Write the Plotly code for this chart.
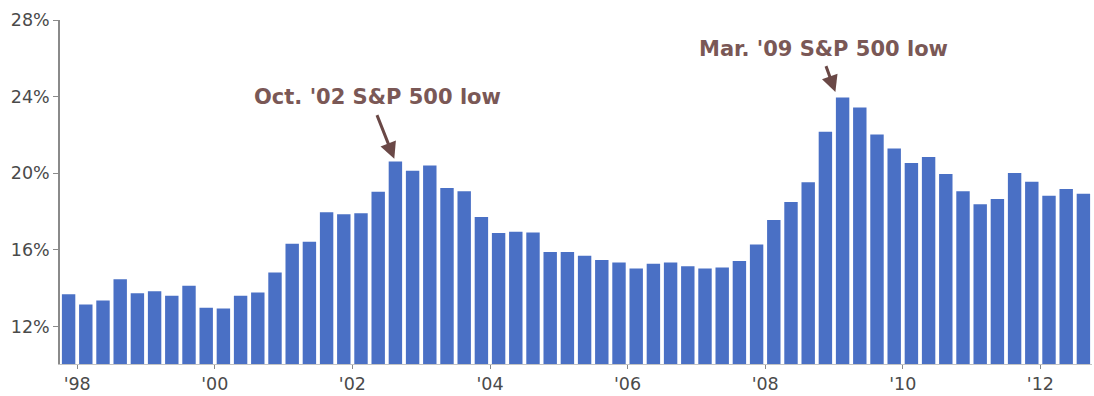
import plotly.graph_objects as go

# Quarterly series, Q4 1997 through Q3 2012 (percent)
quarters = [f"{y}Q{q}" for y in range(1997, 2013) for q in range(1, 5)][3:63]
values = [
    13.69, 13.16, 13.36, 14.47, 13.74, 13.85, 13.61, 14.13, 12.99, 12.95,
    13.61, 13.78, 14.82, 16.32, 16.43, 17.97, 17.86, 17.92, 19.04, 20.61,
    20.13, 20.41, 19.23, 19.07, 17.72, 16.89, 16.95, 16.91, 15.89, 15.89,
    15.70, 15.48, 15.34, 15.03, 15.28, 15.34, 15.15, 15.03, 15.08, 15.42,
    16.29, 17.57, 18.50, 19.54, 22.17, 23.95, 23.43, 22.03, 21.29, 20.54,
    20.85, 19.97, 19.06, 18.38, 18.66, 20.02, 19.56, 18.83, 19.18, 18.93,
]

# Year ticks sit on the boundary before Q1 of each labelled year
tick_years = [1998, 2000, 2002, 2004, 2006, 2008, 2010, 2012]
tick_labels = ["'98", "'00", "'02", "'04", "'06", "'08", "'10", "'12"]
y_ticks = [12, 16, 20, 24, 28]
y_tick_labels = ["12%", "16%", "20%", "24%", "28%"]

# Market-low callouts: (quarter, text)
callouts = [("2002Q3", "Oct. '02 S&P 500 low"), ("2009Q1", "Mar. '09 S&P 500 low")]

x = list(range(len(values)))
tick_pos = [quarters.index(f"{yr}Q1") - 0.5 for yr in tick_years]

BAR = "#4a70c5"
NOTE = "#7a5856"
ARROW = "#6a4846"
AXIS = "#8a8a8a"

fig = go.Figure(
    go.Bar(
        x=x,
        y=values,
        customdata=quarters,
        marker=dict(color=BAR, line=dict(width=0)),
        hovertemplate="%{customdata}: %{y:.1f}%<extra></extra>",
    )
)

# Arrow + label placement for each callout
arrow_cfg = {
    "2002Q3": dict(dx=0.0, ax=-19, ay=-48, standoff=3, tx=17.93, ty=24.0),
    "2009Q1": dict(dx=-0.3, ax=-12, ay=-33, standoff=6, tx=43.89, ty=26.5),
}
for q, text in callouts:
    i = quarters.index(q)
    c = arrow_cfg[q]
    fig.add_annotation(
        x=i + c["dx"], y=values[i], xref="x", yref="y",
        text="", showarrow=True, ax=c["ax"], ay=c["ay"],
        arrowhead=2, arrowsize=1.1, arrowwidth=3, arrowcolor=ARROW,
        standoff=c["standoff"],
    )
    fig.add_annotation(
        x=c["tx"], y=c["ty"], xref="x", yref="y",
        text=f"<b>{text}</b>", showarrow=False,
        xanchor="center", yanchor="middle",
        font=dict(family="DejaVu Sans", size=21, color=NOTE),
    )

fig.update_layout(
    width=1094,
    height=396,
    margin=dict(l=60, r=2, t=20, b=30),
    paper_bgcolor="white",
    plot_bgcolor="white",
    showlegend=False,
    bargap=0.22,
    xaxis=dict(
        range=[-0.5, len(values) - 0.5],
        tickmode="array",
        tickvals=tick_pos,
        ticktext=tick_labels,
        ticks="outside",
        ticklen=4,
        tickcolor=AXIS,
        showline=True,
        linecolor="#c4c4c4",
        linewidth=1,
        showgrid=False,
        zeroline=False,
        tickfont=dict(family="DejaVu Sans", size=17.5, color="#4a4a4a"),
    ),
    yaxis=dict(
        range=[10.05, 28],
        tickmode="array",
        tickvals=y_ticks,
        ticktext=y_tick_labels,
        ticks="outside",
        ticklen=5,
        tickcolor=AXIS,
        showline=True,
        linecolor=AXIS,
        linewidth=1.5,
        showgrid=False,
        zeroline=False,
        tickfont=dict(family="DejaVu Sans", size=17.5, color="#4a4a4a"),
    ),
)

fig.write_html("out.html")
